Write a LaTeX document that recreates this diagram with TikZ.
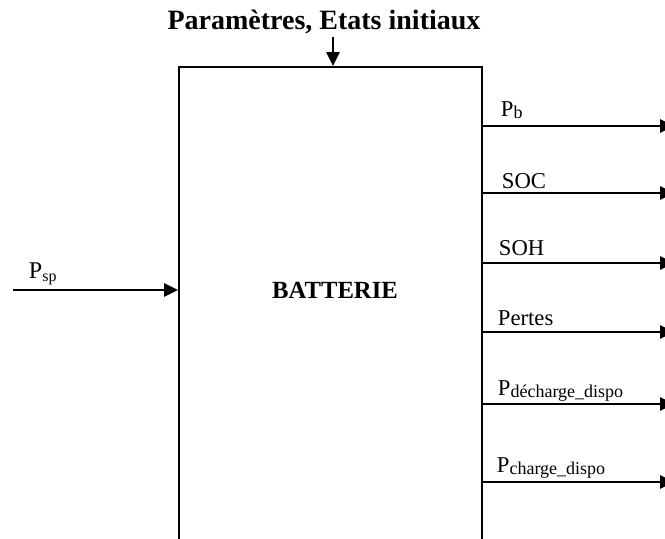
\documentclass[tikz,border=0pt]{standalone}
\usepackage{fontspec}
\setmainfont{Liberation Serif}
\usetikzlibrary{arrows.meta}
\newcommand{\lbsub}[1]{\raisebox{-2.2pt}{\fontsize{13.5}{15}\selectfont #1}}
\newcommand{\lbsubsm}[1]{\raisebox{-2.6pt}{\fontsize{12}{14}\selectfont #1}}
\begin{document}
\begin{tikzpicture}[x=0.75pt,y=-0.75pt,
  line width=1.4pt,
  arr/.style={-{Triangle[length=10.5pt,width=10pt]}},
  lab/.style={anchor=base west,inner sep=0pt,font=\fontsize{17}{19}\selectfont},
  boxstyle/.style={draw,rectangle,minimum width=303*0.75pt,minimum height=520*0.75pt,inner sep=0pt,anchor=north west}]
\clip (0,0) rectangle (665,539);
\node[boxstyle] (batt) at (178,66) {};
\node[anchor=base,inner sep=0pt,font=\fontsize{18.5}{20}\selectfont\bfseries] (bl) at (335,298) {BATTERIE};
\node[anchor=base,inner sep=0pt,font=\fontsize{21}{23}\selectfont\bfseries] (title) at (324,29) {Paramètres, Etats initiaux};
\coordinate (topin) at (333,37);
\draw[arr] (topin) -- (batt.north -| topin);
% input
\coordinate (inL) at (13,290);
\draw[arr] (inL) -- (batt.west |- inL);
\node[lab,font=\fontsize{18}{20}\selectfont] (lpsp) at (28,278) {P\lbsubsm{sp}};
% outputs
\coordinate (o1) at (674,126);
\coordinate (o2) at (674,193);
\coordinate (o3) at (674,263);
\coordinate (o4) at (674,332);
\coordinate (o5) at (674,404);
\coordinate (o6) at (674,482);
\foreach \i in {1,...,6} {\draw[arr] (batt.east |- o\i) -- (o\i);}
\node[lab] (l1) at (500,116) {P\lbsub{b}};
\node[lab] (l2) at (501,188) {SOC};
\node[lab] (l3) at (498,255) {SOH};
\node[lab] (l4) at (497,325) {Pertes};
\node[lab] (l5) at (497,395) {P\lbsub{décharge\_dispo}};
\node[lab] (l6) at (496,472) {P\lbsub{charge\_dispo}};
\end{tikzpicture}
\end{document}
